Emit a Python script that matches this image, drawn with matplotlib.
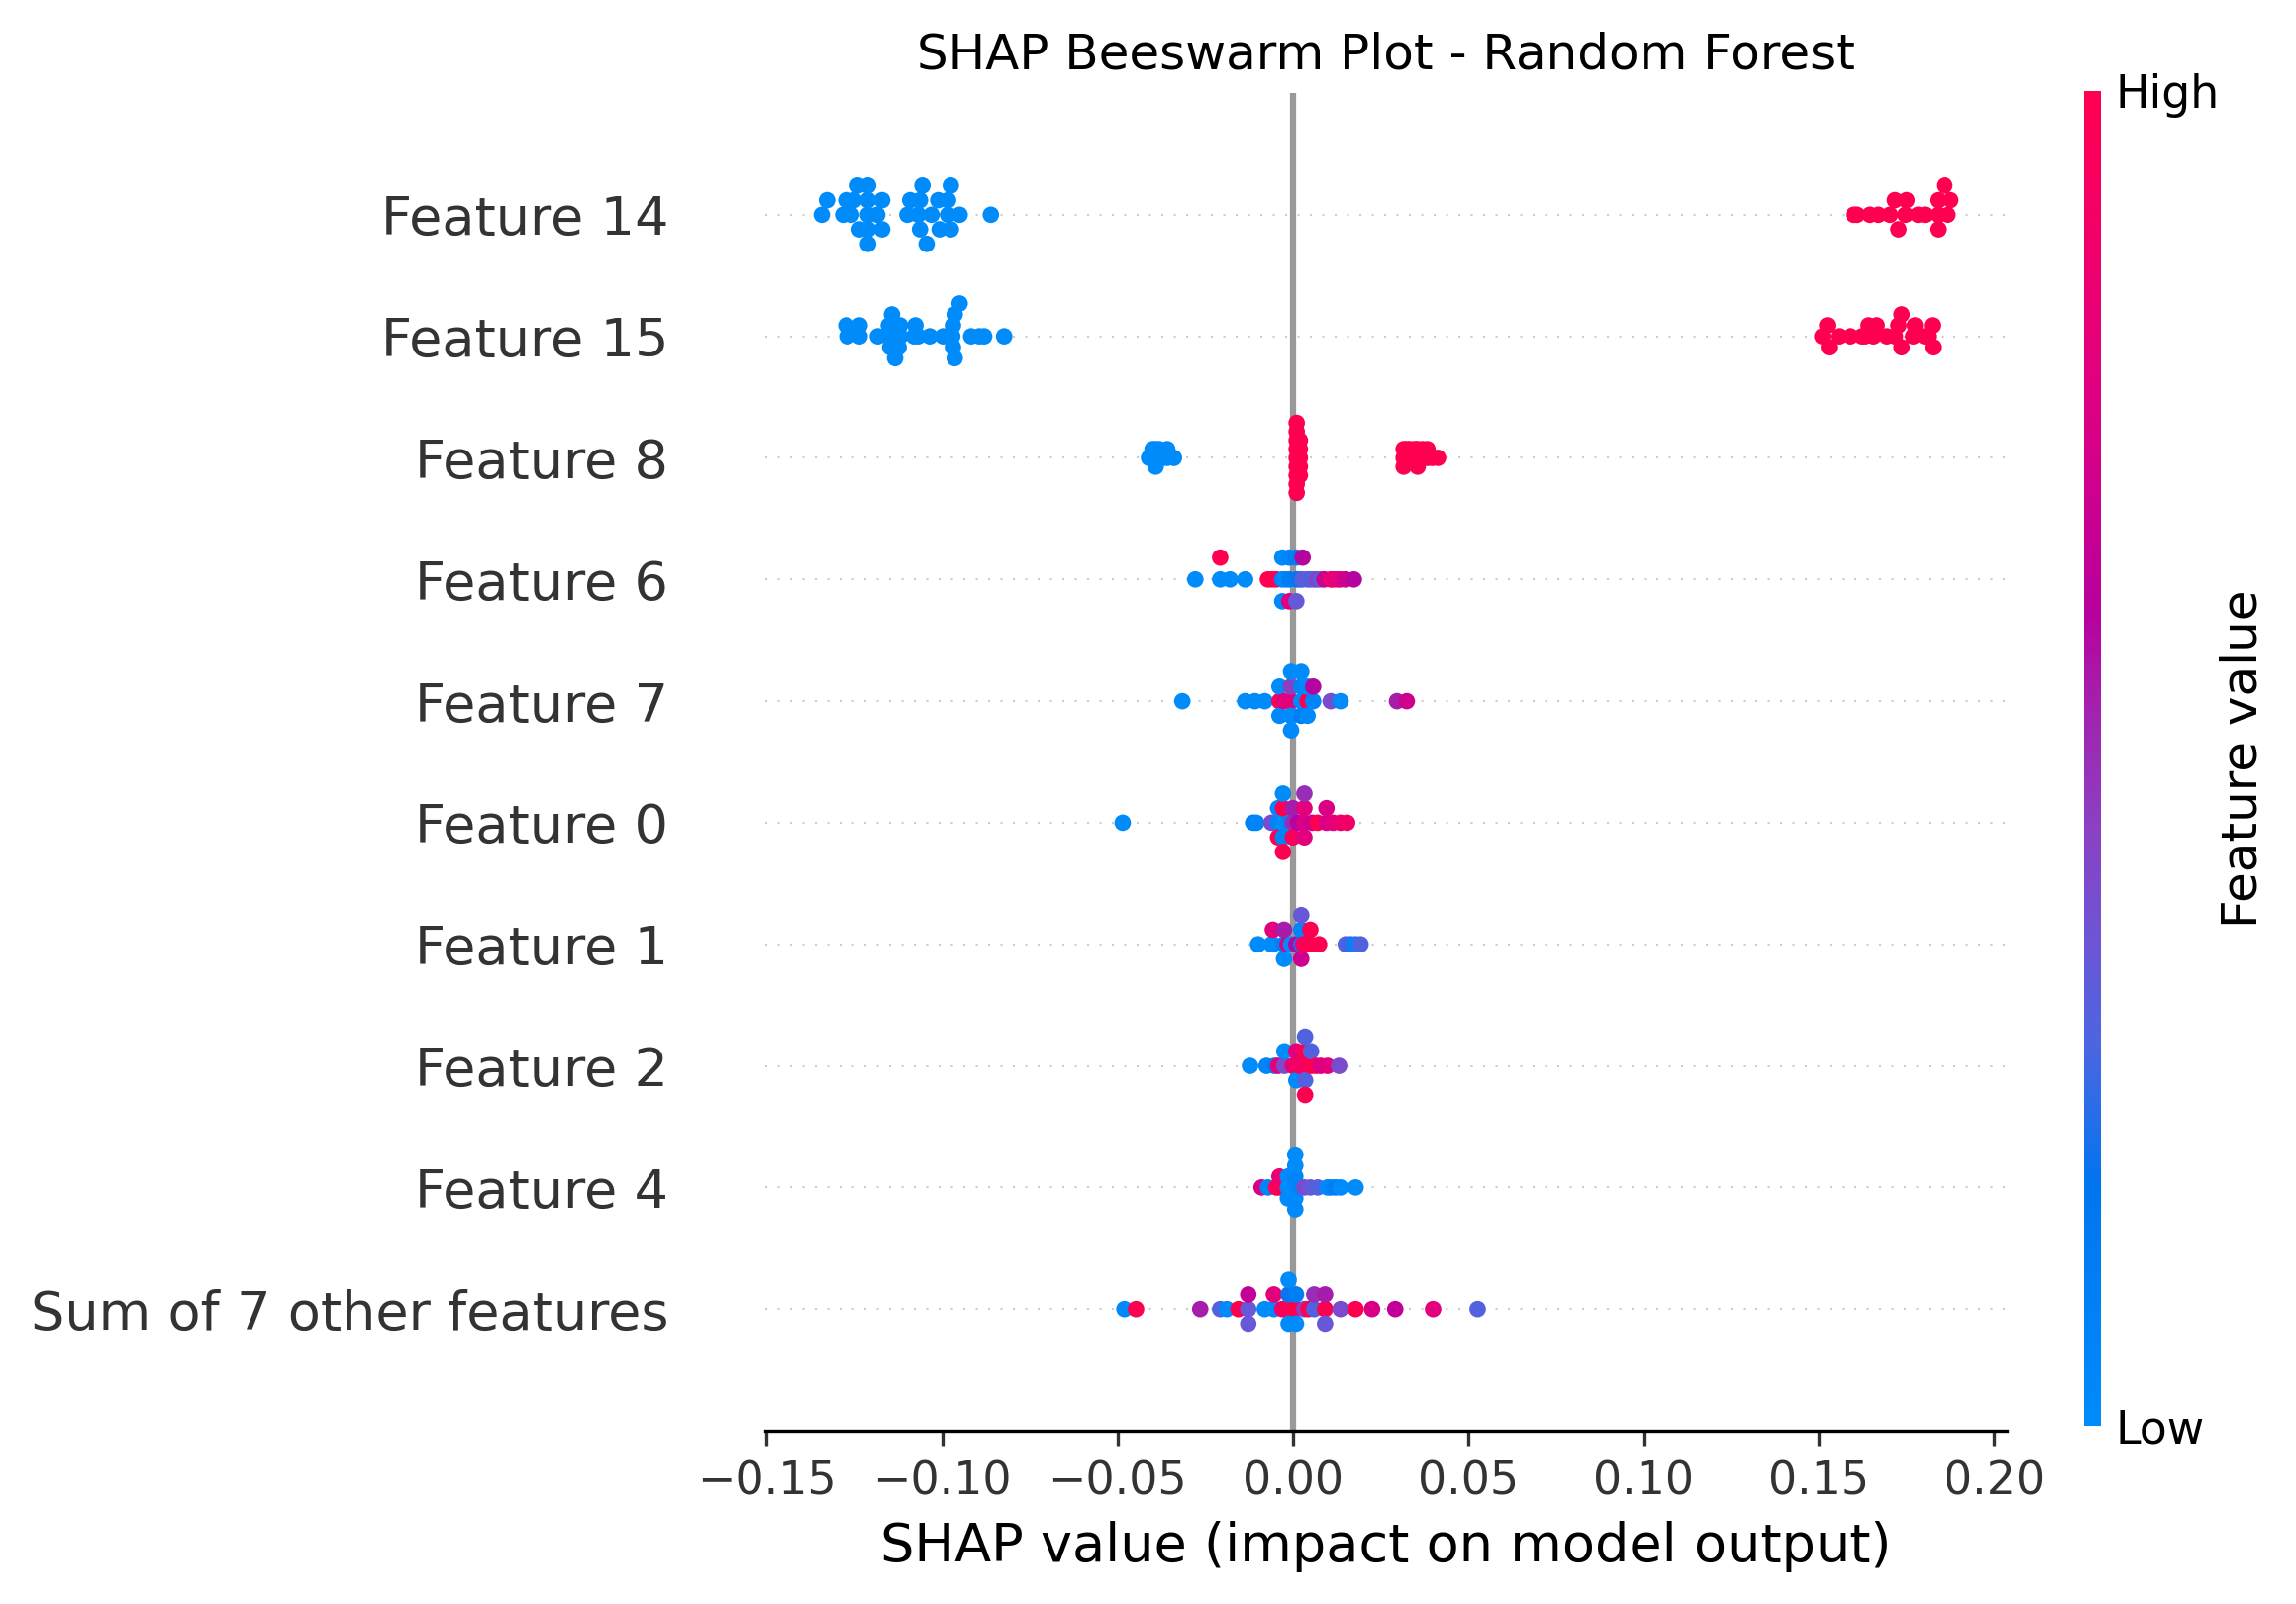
import matplotlib
matplotlib.use("Agg")
import matplotlib.pyplot as plt
import numpy as np
from matplotlib.colors import LinearSegmentedColormap
import matplotlib.cm as cm

# feature names, top row first
features = ["Feature 14", "Feature 15", "Feature 8", "Feature 6", "Feature 7",
            "Feature 0", "Feature 1", "Feature 2", "Feature 4",
            "Sum of 7 other features"]

# shap values and (normalised) feature values per row
f14_shap = [-0.1343, -0.1328, -0.1282, -0.1273, -0.1259, -0.1251, -0.1235, -0.1240,
            -0.1211, -0.1211, -0.1211, -0.1211, -0.1211, -0.1185, -0.1171, -0.1171,
            -0.1099, -0.1091, -0.1068, -0.1063, -0.1063, -0.1056, -0.1044, -0.1030,
            -0.1011, -0.1007, -0.0983, -0.0983, -0.0975, -0.0975, -0.0950, -0.0861,
            0.1600, 0.1609, 0.1646, 0.1670, 0.1703, 0.1717, 0.1727, 0.1747, 0.1750,
            0.1783, 0.1802, 0.1839, 0.1839, 0.1839, 0.1858, 0.1867, 0.1875]
f14_val = [0.0] * 32 + [1.0] * 17

f15_shap = [-0.1270, -0.1273, -0.1235, -0.1235, -0.1183, -0.1152, -0.1152, -0.1148,
            -0.1143, -0.1134, -0.1120, -0.1120, -0.1124, -0.1080, -0.1076, -0.1068,
            -0.1035, -0.0997, -0.0971, -0.0969, -0.0969, -0.0964, -0.0964, -0.0950,
            -0.0917, -0.0894, -0.0880, -0.0823,
            0.1510, 0.1524, 0.1529, 0.1557, 0.1590, 0.1623, 0.1632, 0.1642, 0.1656,
            0.1665, 0.1694, 0.1717, 0.1727, 0.1736, 0.1736, 0.1769, 0.1774, 0.1802,
            0.1811, 0.1823, 0.1825]
f15_val = [0.0] * 28 + [1.0] * 21

f8_shap = [-0.0410, -0.0400, -0.0400, -0.0391, -0.0391, -0.0391, -0.0381, -0.0381,
           -0.0372, -0.0358, -0.0358, -0.0339,
           0.0011, 0.0011, 0.0011, 0.0011, 0.0011, 0.0011, 0.0011, 0.0011, 0.0011,
           0.0020, 0.0020, 0.0020, 0.0020, 0.0020,
           0.0316, 0.0316, 0.0316, 0.0325, 0.0325, 0.0334, 0.0334, 0.0348, 0.0348,
           0.0356, 0.0356, 0.0356, 0.0370, 0.0370, 0.0384, 0.0384, 0.0398, 0.0414]
f8_val = [0.0] * 12 + [1.0] * 32

f6_shap = [-0.0278, -0.0207, -0.0207, -0.0179, -0.0136, -0.0071, -0.0060, -0.0047,
           -0.0030, -0.0030, -0.0030, -0.0020, -0.0010, -0.0010, -0.0010,
           0.0010, 0.0010, 0.0010, 0.0020, 0.0028, 0.0028, 0.0042, 0.0050, 0.0061,
           0.0070, 0.0080, 0.0090, 0.0108, 0.0115, 0.0127, 0.0136, 0.0150, 0.0174]
f6_val = [0.0, 0.0, 1.0, 0.0, 0.0, 1.0, 1.0, 1.0,
          0.05, 0.0, 0.02, 0.0, 0.1, 0.05, 0.8,
          0.15, 0.1, 0.35, 0.2, 0.3, 0.6, 0.35, 0.3, 0.3,
          0.45, 0.3, 0.7, 0.8, 0.85, 0.8, 0.8, 0.7, 0.6]

f7_shap = [-0.0315, -0.0136, -0.0108, -0.0080, -0.0038, -0.0038, -0.0038, -0.0024,
           -0.0005, -0.0005, -0.0005, -0.0005, -0.0005,
           0.0024, 0.0024, 0.0024, 0.0024, 0.0042, 0.0042, 0.0042, 0.0058, 0.0058,
           0.0108, 0.0136, 0.0297, 0.0325]
f7_val = [0.0, 0.0, 0.0, 0.0, 0.95, 0.0, 0.02, 0.8,
          0.8, 0.45, 0.0, 0.0, 0.02,
          0.0, 0.05, 0.1, 0.0, 1.0, 0.0, 0.02, 0.05, 0.6,
          0.4, 0.0, 0.55, 0.7]

f0_shap = [-0.0485, -0.0113, -0.0104, -0.0061, -0.0042, -0.0042, -0.0042,
           -0.0028, -0.0028, -0.0028, -0.0028, -0.0028, -0.0009,
           0.0000, 0.0000, 0.0000, 0.0014, 0.0033, 0.0033, 0.0033, 0.0033,
           0.0055, 0.0071, 0.0096, 0.0096, 0.0115, 0.0136, 0.0155]
f0_val = [0.0, 0.1, 0.05, 0.4, 0.05, 0.0, 1.0,
          0.0, 1.0, 0.05, 0.0, 1.0, 0.05,
          0.5, 0.55, 0.95, 0.6, 0.75, 0.8, 0.8, 0.5,
          0.7, 1.0, 0.75, 0.75, 0.8, 0.85, 0.9]

f1_shap = [-0.0099, -0.0061, -0.0057, -0.0057, -0.0025, -0.0025, -0.0025, -0.0015,
           -0.0005, 0.0010, 0.0024, 0.0024, 0.0024, 0.0024, 0.0030, 0.0042,
           0.0050, 0.0050, 0.0075, 0.0151, 0.0165, 0.0179, 0.0193]
f1_val = [0.0, 0.0, 0.0, 0.8, 0.1, 0.55, 0.0, 0.75,
          0.0, 0.6, 0.2, 0.05, 0.7, 0.35, 0.9, 1.0,
          1.0, 1.0, 1.0, 0.3, 0.25, 0.05, 0.3]

f2_shap = [-0.0122, -0.0075, -0.0052, -0.0042, -0.0024, -0.0024, 0.0000,
           0.0010, 0.0010, 0.0010, 0.0019, 0.0035, 0.0035, 0.0035, 0.0035, 0.0035,
           0.0052, 0.0052, 0.0066, 0.0080, 0.0099, 0.0132]
f2_val = [0.0, 0.05, 0.1, 0.8, 0.4, 0.0, 0.85,
          0.85, 0.8, 0.0, 0.95, 0.9, 1.0, 0.3, 0.3, 1.0,
          1.0, 0.3, 1.0, 0.75, 0.8, 0.4]

f4_shap = [-0.0089, -0.0071, -0.0047, -0.0038, -0.0038, -0.0014, -0.0014, -0.0014,
           0.0007, 0.0007, 0.0007, 0.0007, 0.0007, 0.0007,
           0.0019, 0.0033, 0.0050, 0.0071, 0.0099, 0.0108, 0.0122, 0.0136, 0.0179]
f4_val = [0.75, 0.05, 1.0, 0.95, 0.85, 0.0, 0.0, 0.0,
          0.0, 0.05, 0.0, 0.0, 0.02, 0.0,
          0.05, 0.4, 0.35, 0.3, 0.0, 0.05, 0.1, 0.0, 0.0]

rest_shap = [-0.0480, -0.0447, -0.0264, -0.0207, -0.0188, -0.0155,
             -0.0127, -0.0127, -0.0127, -0.0080, -0.0054, -0.0054, -0.0030,
             -0.0012, -0.0012, -0.0012, -0.0012, 0.0009, 0.0009, 0.0009,
             0.0033, 0.0045, 0.0061, 0.0061, 0.0092, 0.0092, 0.0092,
             0.0136, 0.0179, 0.0226, 0.0292, 0.0400, 0.0527]
rest_val = [0.02, 1.0, 0.55, 0.3, 0.0, 1.0,
            0.35, 0.65, 0.35, 0.0, 0.0, 0.8, 0.9,
            1.0, 0.2, 0.0, 0.0, 1.0, 0.1, 0.0,
            0.45, 1.0, 0.3, 0.5, 1.0, 0.55, 0.35,
            0.4, 1.0, 0.75, 0.65, 0.8, 0.3]

rows_shap = [f14_shap, f15_shap, f8_shap, f6_shap, f7_shap, f0_shap,
             f1_shap, f2_shap, f4_shap, rest_shap]
rows_val = [f14_val, f15_val, f8_val, f6_val, f7_val, f0_val,
            f1_val, f2_val, f4_val, rest_val]

# shap-like blue -> red colormap
red_blue = LinearSegmentedColormap.from_list("red_blue", [
    (0.00, "#008bfb"), (0.18, "#0075ef"), (0.28, "#4a66e2"), (0.36, "#6c56d6"),
    (0.45, "#8b40c2"), (0.55, "#a61dab"), (0.61, "#b8009e"), (0.76, "#dc0084"),
    (0.89, "#f2006a"), (1.00, "#ff0051")])


def swarm(vals, row_height=0.4, nbins=100):
    # same stacking rule as shap's beeswarm
    vals = np.asarray(vals)
    quant = np.round(nbins * (vals - vals.min()) / (vals.max() - vals.min() + 1e-8))
    inds = np.argsort(quant, kind="stable")
    layer = 0
    last_bin = -1
    ys = np.zeros(len(vals))
    for ind in inds:
        if quant[ind] != last_bin:
            layer = 0
        ys[ind] = np.ceil(layer / 2) * ((layer % 2) * 2 - 1)
        layer += 1
        last_bin = quant[ind]
    ys *= 0.9 * (row_height / np.max(ys + 1))
    return ys


W, H = 2319, 1620
fig = plt.figure(figsize=(W / 300, H / 300), dpi=300)
ax = fig.add_axes([773 / W, 1 - 1445 / H, (2027 - 773) / W, (1445 - 94) / H])

n = len(features)
ax.axvline(x=0, color="#999999", zorder=-1)
for i in range(n):
    pos = n - 1 - i
    ax.axhline(y=pos, color="#cccccc", lw=0.5, dashes=(1, 5), zorder=-1)
    xs = np.asarray(rows_shap[i])
    ys = swarm(xs)
    ax.scatter(xs, pos + ys, c=rows_val[i], cmap=red_blue, vmin=0, vmax=1,
               s=16, linewidth=0, alpha=1, zorder=3)

ax.set_yticks(range(n))
ax.set_yticklabels(features[::-1], fontsize=13)
ax.set_ylim(-1, n)
ax.tick_params("y", length=0, pad=23.5, labelcolor="#333333")
ax.tick_params("x", labelsize=11, color="#333333", labelcolor="#333333")
for s in ["top", "right", "left"]:
    ax.spines[s].set_visible(False)
ax.set_xlabel("SHAP value (impact on model output)", fontsize=13)
ax.set_title("SHAP Beeswarm Plot - Random Forest", fontsize=12)

cax = fig.add_axes([2105 / W, 1 - 1440 / H, 17 / W, (1440 - 92) / H])
m = cm.ScalarMappable(cmap=red_blue)
m.set_array([0, 1])
cb = fig.colorbar(m, cax=cax, ticks=[0, 1])
cb.set_ticklabels(["Low", "High"])
cb.set_label("Feature value", size=12, labelpad=0)
cb.ax.tick_params(labelsize=11, length=0)
cb.outline.set_visible(False)

fig.savefig("out.png", dpi=300)
